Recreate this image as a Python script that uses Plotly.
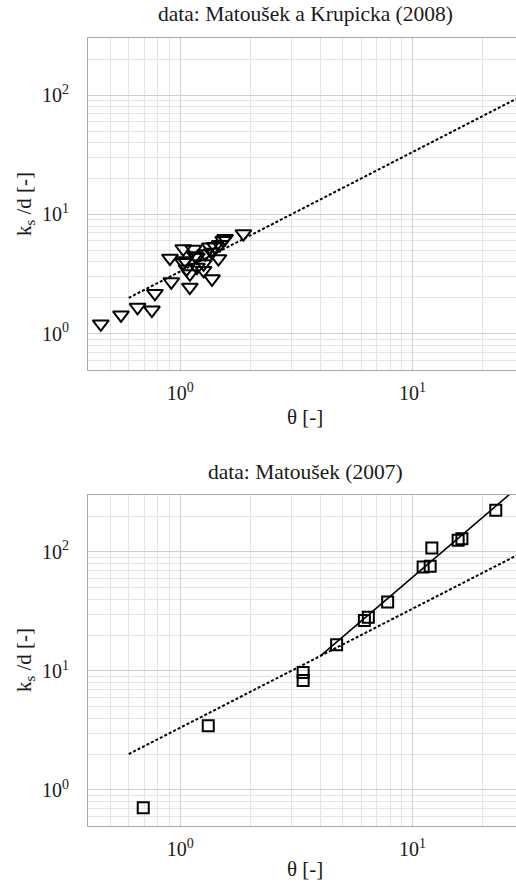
import plotly.graph_objects as go

# ---- data ----
top_theta = [0.455, 0.556, 0.655, 0.755, 0.778, 0.915, 0.903, 1.03, 1.14, 1.05, 1.065,
             1.10, 1.10, 1.18, 1.18, 1.26, 1.26, 1.28, 1.34, 1.41, 1.37, 1.46, 1.37,
             1.53, 1.56, 1.87, 1.03, 1.16, 1.48]
top_ks = [1.21, 1.44, 1.67, 1.58, 2.18, 2.73, 4.3, 5.16, 5.1, 4.1, 3.5,
          3.18, 2.46, 4.39, 3.62, 3.86, 3.4, 4.69, 5.33, 5.4, 4.83, 4.26, 2.89,
          6.06, 6.3, 6.9, 3.95, 4.5, 5.6]

bot_theta = [0.693, 1.32, 3.38, 3.38, 4.71, 6.2, 6.45, 7.81, 11.1, 11.9, 12.1, 15.7, 16.3, 22.8]
bot_ks = [0.71, 3.46, 9.7, 8.3, 16.6, 26.5, 28.3, 37.9, 74.8, 75.6, 108, 125, 129, 224]

dash_theta = [0.6, 28.0]
dash_ks = [2.0, 93.3]

solid_theta = [4.0, 28.0]
solid_ks = [13.3, 341.0]

titles = ["data: Matoušek a Krupicka (2008)", "data: Matoušek (2007)"]
tick_vals = [1, 10, 100]
tick_text = ["10<sup>0</sup>", "10<sup>1</sup>", "10<sup>2</sup>"]

W, H = 516, 888
FONT = "Liberation Serif"

def px_x(p):
    return p / W

def px_y(p):
    return 1 - p / H

fig = go.Figure()

# top panel
fig.add_trace(go.Scatter(x=dash_theta, y=dash_ks, mode="lines",
                         line=dict(color="black", width=2, dash="3px,2px"),
                         xaxis="x", yaxis="y", showlegend=False))
fig.add_trace(go.Scatter(x=top_theta, y=top_ks, mode="markers",
                         marker=dict(symbol="triangle-down-open", size=14, color="black",
                                     line=dict(width=2, color="black")),
                         xaxis="x", yaxis="y", showlegend=False))

# bottom panel
fig.add_trace(go.Scatter(x=dash_theta, y=dash_ks, mode="lines",
                         line=dict(color="black", width=2, dash="3px,2px"),
                         xaxis="x2", yaxis="y2", showlegend=False))
fig.add_trace(go.Scatter(x=solid_theta, y=solid_ks, mode="lines",
                         line=dict(color="black", width=1.6),
                         xaxis="x2", yaxis="y2", showlegend=False))
fig.add_trace(go.Scatter(x=bot_theta, y=bot_ks, mode="markers",
                         marker=dict(symbol="square-open", size=11, color="black",
                                     line=dict(width=2, color="black")),
                         xaxis="x2", yaxis="y2", showlegend=False))

xr = [-0.397, 1.445]
yr = [-0.303, 2.478]

def axis_common(rng, domain, anchor):
    return dict(type="log", range=rng, domain=domain, anchor=anchor,
                tickvals=tick_vals, ticktext=tick_text,
                tickfont=dict(family=FONT, size=20, color="#1a1a1a"),
                showgrid=True, gridcolor="#cfcfcf", gridwidth=1,
                minor=dict(dtick="D1", showgrid=True, gridcolor="#e4e4e4", gridwidth=1, ticks=""),
                showline=True, linecolor="#a8a8a8", linewidth=1, mirror=True,
                ticks="", zeroline=False, fixedrange=True, automargin=False)

xdom = [px_x(88), 1.0]
top_dom = [px_y(370), px_y(38)]
bot_dom = [px_y(826), px_y(495)]

fig.update_layout(
    width=W, height=H,
    margin=dict(l=0, r=0, t=0, b=0, autoexpand=False),
    paper_bgcolor="white", plot_bgcolor="white",
    font=dict(family=FONT, color="#1a1a1a"),
    xaxis=dict(axis_common(xr, xdom, "y"), ticklabelstandoff=5),
    yaxis=dict(axis_common(yr, top_dom, "x"), ticklabelstandoff=14),
    xaxis2=dict(axis_common(xr, xdom, "y2"), ticklabelstandoff=5),
    yaxis2=dict(axis_common(yr, bot_dom, "x2"), ticklabelstandoff=14),
)

ann = []
for title, ty, xt_y, cy in [(titles[0], 14, 417, 204), (titles[1], 472, 869, 660)]:
    ann.append(dict(text=title, x=px_x(305), y=px_y(ty), xref="paper", yref="paper",
                    showarrow=False, xanchor="center", yanchor="middle",
                    font=dict(family=FONT, size=21.5, color="#1a1a1a")))
    ann.append(dict(text="θ [-]", x=px_x(305), y=px_y(xt_y), xref="paper", yref="paper",
                    showarrow=False, xanchor="center", yanchor="middle",
                    font=dict(family=FONT, size=21, color="#1a1a1a")))
    ann.append(dict(text="k<sub>s</sub> /d [-]", x=px_x(25), y=px_y(cy), xref="paper", yref="paper",
                    showarrow=False, xanchor="center", yanchor="middle", textangle=-90,
                    font=dict(family=FONT, size=21, color="#1a1a1a")))
fig.update_layout(annotations=ann)

fig.write_html("out.html", config={"displayModeBar": False},
               post_script="document.body.style.margin='0';document.body.style.overflow='hidden';")
